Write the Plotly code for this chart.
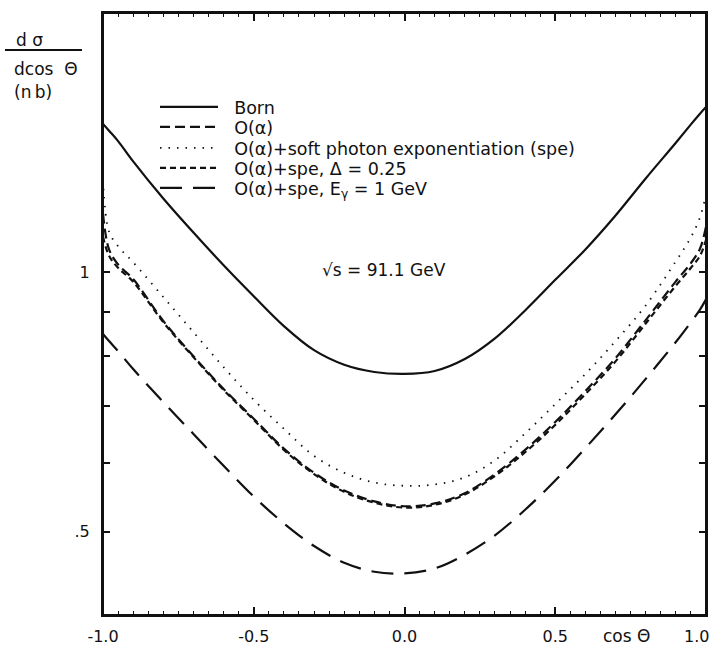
import plotly.graph_objects as go

# ---- data ----
COS = [-1.0, -0.98, -0.95, -0.9, -0.8, -0.7, -0.6, -0.5, -0.4, -0.3, -0.2, -0.1, 0.0,
       0.1, 0.2, 0.3, 0.4, 0.5, 0.6, 0.7, 0.8, 0.9, 0.95, 0.98, 1.0]

BORN = [1.487, 1.46, 1.42, 1.345, 1.218, 1.112, 1.019, 0.938, 0.866, 0.812, 0.781, 0.766, 0.762,
        0.768, 0.793, 0.838, 0.903, 0.980, 1.063, 1.164, 1.285, 1.414, 1.485, 1.528, 1.556]

O_ALPHA = [1.17, 1.063, 1.021, 0.982, 0.878, 0.799, 0.732, 0.676, 0.624, 0.585, 0.558, 0.542, 0.535,
           0.539, 0.554, 0.583, 0.622, 0.670, 0.728, 0.795, 0.880, 0.976, 1.025, 1.065, 1.13]

O_ALPHA_SPE = [1.28, 1.115, 1.072, 1.027, 0.936, 0.852, 0.776, 0.711, 0.658, 0.612, 0.585, 0.570, 0.565,
               0.567, 0.578, 0.605, 0.650, 0.703, 0.762, 0.832, 0.915, 1.030, 1.098, 1.158, 1.231]

O_ALPHA_SPE_DELTA = [1.10, 1.045, 1.012, 0.975, 0.875, 0.797, 0.730, 0.674, 0.622, 0.583, 0.556, 0.540, 0.533,
                     0.537, 0.552, 0.580, 0.618, 0.665, 0.722, 0.788, 0.872, 0.965, 1.012, 1.045, 1.09]

O_ALPHA_SPE_EG = [0.848, 0.832, 0.810, 0.772, 0.707, 0.649, 0.596, 0.549, 0.511, 0.481, 0.460, 0.449, 0.447,
                  0.453, 0.470, 0.495, 0.530, 0.573, 0.625, 0.684, 0.752, 0.830, 0.875, 0.905, 0.930]

NAMES = ["Born", "O(α)", "O(α)+soft photon exponentiation (spe)",
         "O(α)+spe, Δ = 0.25", "O(α)+spe, E<sub>γ</sub> = 1 GeV"]

X_TICKS = [-1.0, -0.5, 0.0, 0.5]
X_TICKTEXT = ["-1.0", "-0.5", "0.0", "0.5"]
X_LAST_TICK = "1.0"   # last label sits just inside the page edge, as in the reference
Y_TICKS = [0.5, 1.0]
Y_TICKTEXT = [".5", "1"]
Y_MINOR = [0.6, 0.7, 0.8, 0.9]

FONT = "DejaVu Sans"
INK = "#111111"

series = [
    (NAMES[0], BORN, dict(color=INK, width=2.2, dash="solid")),
    (NAMES[1], O_ALPHA, dict(color=INK, width=2.2, dash="10px,5px")),
    (NAMES[2], O_ALPHA_SPE, dict(color=INK, width=1.8, dash="1.5px,7px")),
    (NAMES[3], O_ALPHA_SPE_DELTA, dict(color=INK, width=2.2, dash="6px,4px")),
    (NAMES[4], O_ALPHA_SPE_EG, dict(color=INK, width=2.2, dash="22px,11px")),
]

# legend row centres (pixels in the 713x650 page)
LEGEND_ROWS = [107, 127, 148, 168, 188]


def px_x(p):
    return (p - 103) / 603.0


def px_y(p):
    return 1 - (p - 13) / 602.0


fig = go.Figure()
legend_layout = {}
for i, (name, ys, line) in enumerate(series):
    key = "legend" if i == 0 else f"legend{i + 1}"
    fig.add_trace(go.Scatter(x=COS, y=ys, mode="lines", name="\u00a0\u00a0" + name,
                             legend=key,
                             line=dict(shape="spline", smoothing=1.0, **line)))
    legend_layout[key] = dict(x=px_x(155), y=px_y(LEGEND_ROWS[i]), xanchor="left", yanchor="middle",
                              bgcolor="rgba(0,0,0,0)", borderwidth=0, itemwidth=58,
                              font=dict(family=FONT, size=17.5, color=INK))

fig.update_layout(
    template="none",
    width=713, height=650,
    margin=dict(l=103, r=7, t=13, b=35, autoexpand=False),
    paper_bgcolor="white", plot_bgcolor="white",
    font=dict(family=FONT, size=16, color=INK),
    showlegend=True,
    **legend_layout,
)

fig.update_xaxes(
    range=[-1.0, 1.0], showgrid=False, zeroline=False, automargin=False,
    showline=True, linewidth=2, linecolor=INK, mirror="ticks",
    ticks="inside", ticklen=8, tickwidth=1.5, tickcolor=INK,
    tickmode="array", tickvals=X_TICKS, ticktext=X_TICKTEXT,
    tickfont=dict(family=FONT, size=16, color=INK), ticklabelstandoff=6,
    minor=dict(ticks="inside", ticklen=4, tickwidth=1, tickcolor=INK, dtick=0.05, showgrid=False),
)

fig.update_yaxes(
    type="log", range=[-0.39794, 0.30103], showgrid=False, zeroline=False, automargin=False,
    showline=True, linewidth=2, linecolor=INK, mirror="ticks",
    ticks="inside", ticklen=7, tickwidth=2, tickcolor=INK,
    tickmode="array", tickvals=Y_TICKS, ticktext=Y_TICKTEXT,
    tickfont=dict(family=FONT, size=16, color=INK), ticklabelstandoff=8,
    minor=dict(ticks="inside", ticklen=7, tickwidth=2, tickcolor=INK,
               tickmode="array", tickvals=Y_MINOR, showgrid=False),
)

annos = [
    dict(text="d\u00a0σ", x=px_x(14), y=px_y(40), xanchor="left", yanchor="middle", size=17),
    dict(text="dcos\u00a0\u00a0Θ", x=px_x(12), y=px_y(69), xanchor="left", yanchor="middle", size=17),
    dict(text="(n\u2009b)", x=px_x(12), y=px_y(92), xanchor="left", yanchor="middle", size=17),
    dict(text="√s = 91.1 GeV", x=px_x(384), y=px_y(270), xanchor="center", yanchor="middle", size=17),
    dict(text="cos Θ", x=px_x(626), y=px_y(636), xanchor="center", yanchor="middle", size=17),
    dict(text=X_LAST_TICK, x=px_x(711), y=px_y(636), xanchor="right", yanchor="middle", size=16),
]
for a in annos:
    size = a.pop("size")
    fig.add_annotation(xref="paper", yref="paper", showarrow=False,
                       font=dict(family=FONT, color=INK, size=size), **a)

# fraction bar of the axis title and the plot frame
fig.add_shape(type="line", xref="paper", yref="paper",
              x0=px_x(5), x1=px_x(82), y0=px_y(50), y1=px_y(50),
              line=dict(color=INK, width=2))
fig.add_shape(type="rect", xref="paper", yref="paper", x0=0, x1=1, y0=0, y1=1,
              line=dict(color=INK, width=2), layer="above")

fig.write_html("out.html")
